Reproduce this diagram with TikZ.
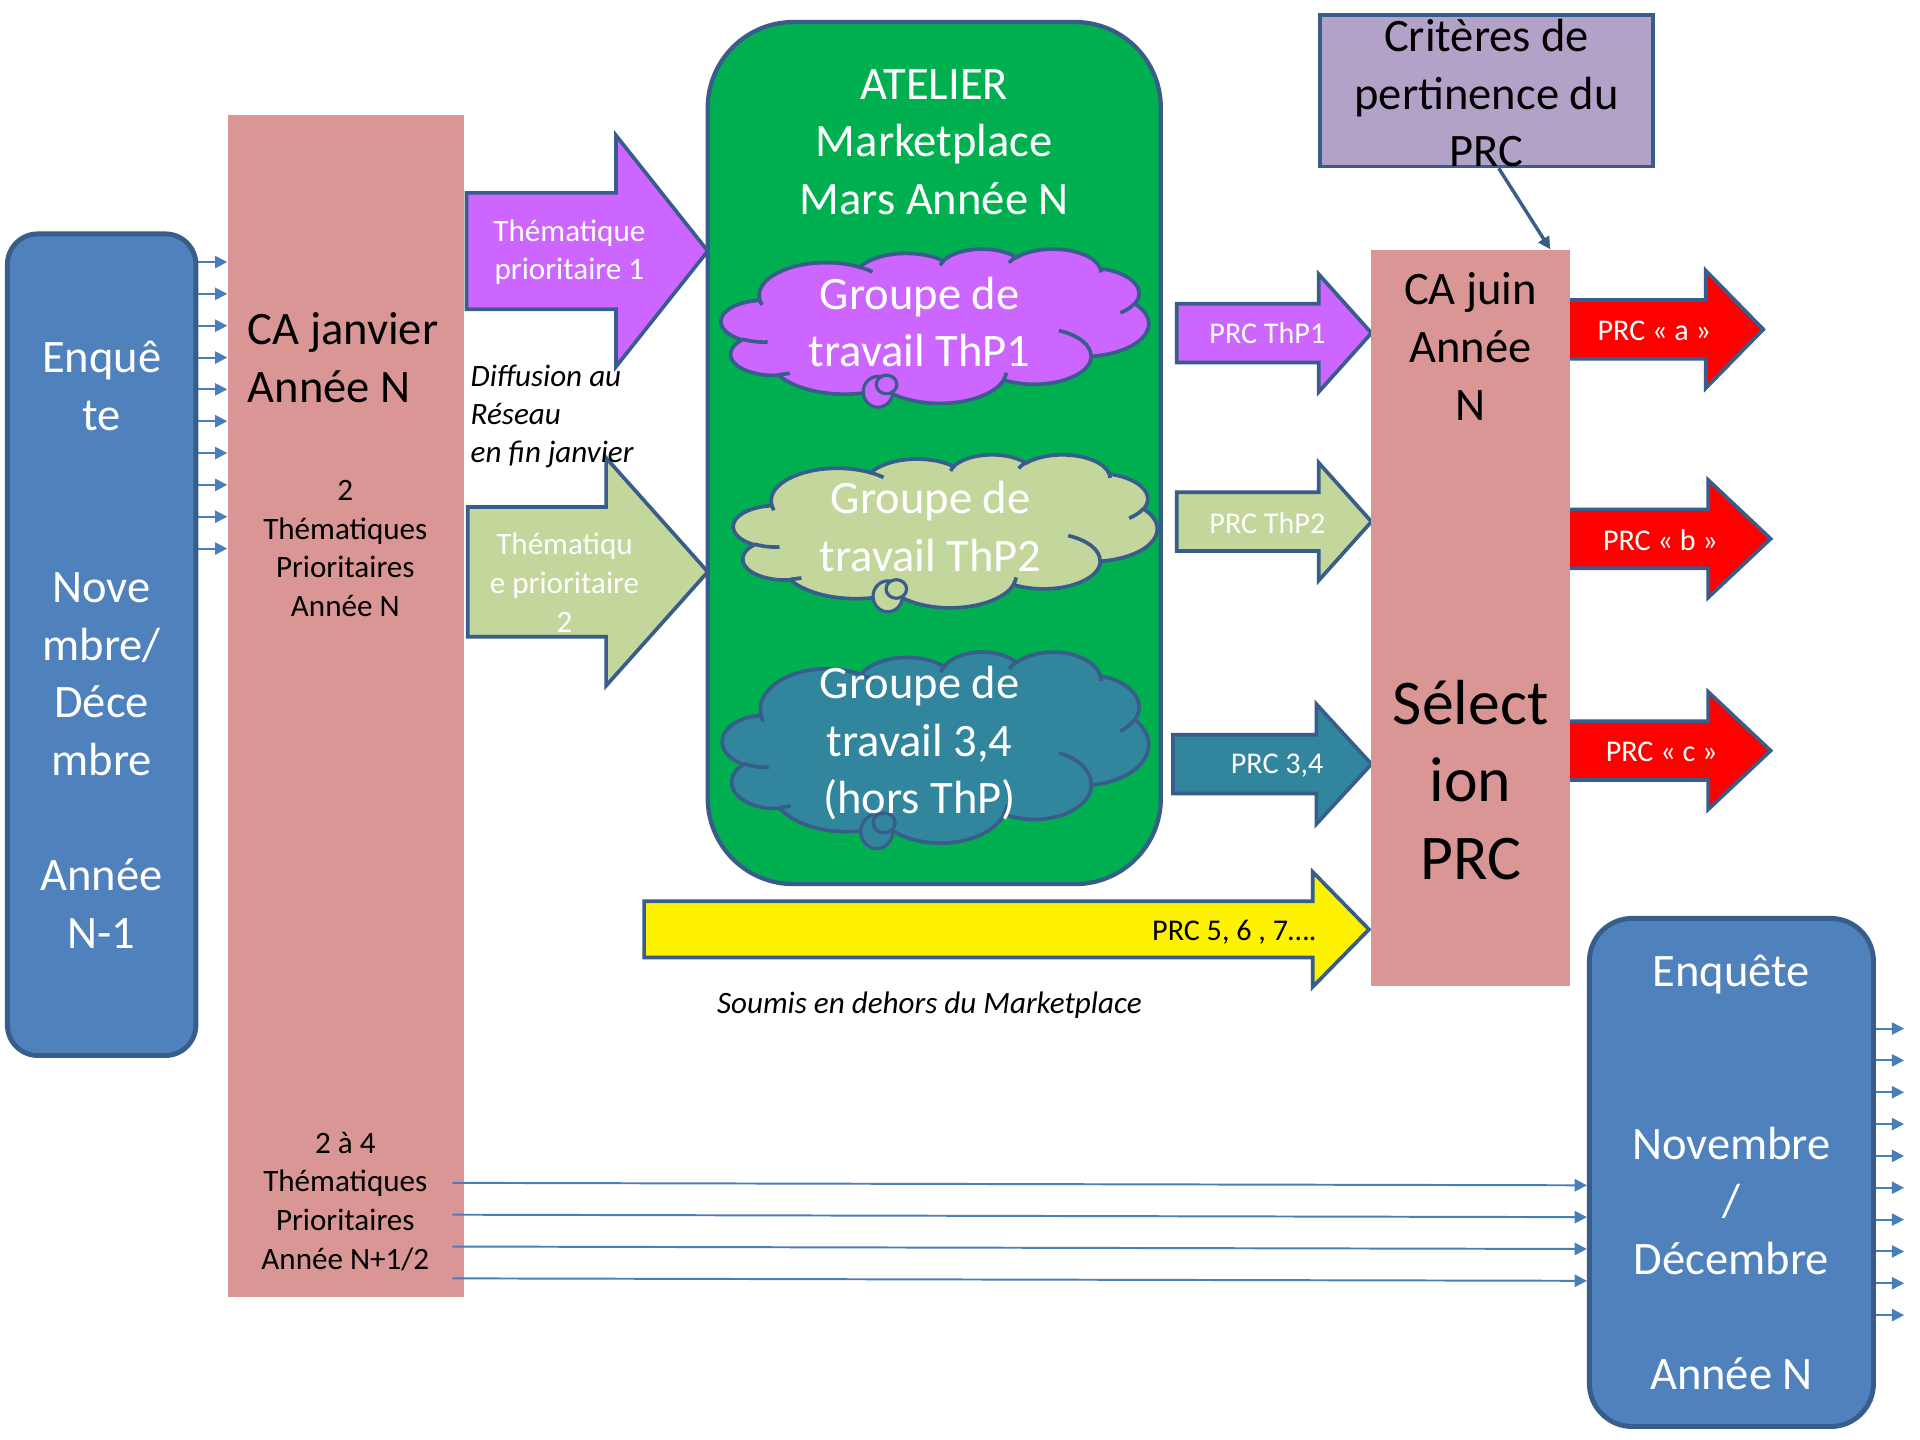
\documentclass[tikz,border=0pt]{standalone}
\usepackage{fontspec}
\setmainfont{Carlito}
\usetikzlibrary{arrows.meta,calc}
\definecolor{bordc}{HTML}{385D8A}
\definecolor{boxblue}{HTML}{4F81BD}
\definecolor{pinkc}{HTML}{D99694}
\definecolor{purplec}{HTML}{CC66FF}
\definecolor{lgreen}{HTML}{C3D69B}
\definecolor{tealc}{HTML}{31859C}
\definecolor{atelierg}{HTML}{00B050}
\definecolor{critc}{HTML}{B3A2C7}
\definecolor{thinc}{HTML}{4A7EBB}
% style, x1, x2, x3, yc, half body, half head
\newcommand\blockarr[7]{%
  \filldraw[barr,#1] (#2,#5-#6) -- (#3,#5-#6) -- (#3,#5-#7) -- (#4,#5) -- (#3,#5+#7) -- (#3,#5+#6) -- (#2,#5+#6) -- cycle;}
% elliptical arc with visual start angle / sweep (y down)
\newcommand\carc[4]{\pgfextra{%
  \pgfmathsetmacro\myta{atan2((#1)*sin(#3),(#2)*cos(#3))}%
  \pgfmathsetmacro\mytb{atan2((#1)*sin((#3)+(#4)),(#2)*cos((#3)+(#4)))}%
  \pgfmathsetmacro\mytb{\mytb<\myta ? \mytb+360 : \mytb}%
  \global\let\gta\myta\global\let\gtb\mytb}%
  arc[start angle=\gta, end angle=\gtb, x radius=#1, y radius=#2]}
% cloud: fill, x0, y0, w, h, name
\newcommand\cloudpic[6]{%
  \pgfmathsetmacro\cux{#4/432*0.5}\pgfmathsetmacro\cuy{#5/432*0.5}%
  \begin{scope}[shift={(#2,#3)}, x=\cux pt, y=-\cuy pt]
    \filldraw[draw=bordc, line width=1.5pt, fill=#1] (39,143.7)
      \carc{67.53}{91.90}{-190.4875}{123.7805}
      \carc{53.33}{72.67}{-144.1024}{89.9452}
      \carc{43.65}{59.45}{-145.8079}{99.7230}
      \carc{48.57}{65.95}{-130.9861}{117.2417}
      \carc{53.33}{72.73}{-78.7089}{109.0269}
      \carc{67.75}{92.20}{-46.2673}{130.2690}
      \carc{57.85}{78.67}{0.6250}{114.0333}
      \carc{67.52}{92.15}{22.4516}{115.1726}
      \carc{77.20}{105.43}{66.2426}{75.7110}
      \carc{43.60}{59.18}{-274.9421}{146.7356}
      \carc{43.45}{59.45}{-246.8285}{152.5189} -- cycle;
    \draw[draw=bordc, line width=1.5pt]
      (46.93,261.77) \carc{43.45}{59.45}{86.742}{26.4295}
      (69.28,348.99) \carc{43.60}{59.18}{73.6105}{11.4475}
      (164.78,390.90) \carc{67.52}{92.15}{137.6242}{14.0811}
      (288.27,347.51) \carc{67.52}{92.15}{6.4533}{15.9984}
      (341.29,229.54) \carc{57.85}{78.67}{-70.2924}{70.9174}
      (417.98,153.54) \carc{53.33}{72.73}{30.3180}{27.7515}
      (383.24,54.26) \carc{48.57}{65.95}{-13.7443}{14.8589}
      (290.78,39.52) \carc{48.57}{65.95}{-149.1815}{18.1954}
      (221.41,47.20) \carc{43.65}{59.45}{-163.4943}{17.6864}
      (140.00,51.92) \carc{67.53}{91.90}{-66.7070}{12.3194}
      (41.27,157.89) \carc{67.53}{91.90}{157.6544}{11.8582};
    \coordinate (#6) at (216,216);
  \end{scope}}
\tikzset{
  barr/.style={draw=bordc, line width=1.5pt, line join=miter},
  bigtxt/.style={font=\fontsize{19}{23.5}\selectfont, align=center, inner sep=0pt},
  hugetxt/.style={font=\fontsize{26}{31.5}\selectfont, align=center, inner sep=0pt},
  medtxt/.style={font=\fontsize{12.7}{15.8}\selectfont, align=center, inner sep=0pt},
  smalltxt/.style={font=\fontsize{12.3}{15}\selectfont, align=center, inner sep=0pt},
  itxt/.style={font=\fontsize{12.7}{15.6}\selectfont\itshape, inner sep=0pt},
  thinarr/.style={draw=thinc, line width=0.8pt, -{Triangle[length=5pt,width=5pt]}},
  tailc/.style={draw=bordc, line width=1.3pt},
}
\begin{document}
\begin{tikzpicture}[x=0.5pt,y=-0.5pt]
\useasboundingbox (0,0) rectangle (1568,1176);
\fill[white] (0,0) rectangle (1568,1176);

% ---- left survey box
\node[draw=bordc, line width=2pt, fill=boxblue, rounded corners=12.5pt,
      minimum width=77pt, minimum height=335.5pt, text=white, bigtxt] (lb) at (83,526.5)
  {Enquê\\te\\~\\~\\Nove\\mbre/\\Déce\\mbre\\~\\Année\\N-1};

% ---- pink CA janvier box
\node[fill=pinkc, minimum width=96.5pt, minimum height=482.5pt, inner sep=0pt] (caj) at (282.5,576.5) {};
\node[bigtxt, align=left, anchor=west] (cajt) at (202,292) {CA janvier\\Année N};
\node[medtxt] (cajt2) at (282,448) {2\\Thématiques\\Prioritaires\\Année N};
\node[medtxt] (cajt3) at (282,981) {2 à 4\\Thématiques\\Prioritaires\\Année N+1/2};

% thin arrows left box -> CA janvier
\foreach \y in {214,240,...,448} {
  \draw[thinarr] (lb.east |- 0,\y) -- (caj.west |- 0,\y);
}

% ---- block arrows into atelier
\blockarr{fill=purplec}{381}{503}{578}{205}{47.5}{94.5}
\node[medtxt, text=white] (t1) at (465,206) {Thématique\\prioritaire 1};
\blockarr{fill=lgreen}{382}{495}{578}{467}{53}{93}
\node[medtxt, text=white] (t2) at (461,476) {Thématiqu\\e prioritaire\\2};
\node[itxt, align=left, anchor=west] (diff) at (384,340) {Diffusion au\\Réseau\\en fin janvier};

% ---- atelier
\node[draw=bordc, line width=1.75pt, fill=atelierg, rounded corners=35pt,
      minimum width=185pt, minimum height=352pt] (atel) at (763,370) {};
\node[bigtxt, text=white] (atelt) at (763,116) {ATELIER\\Marketplace\\Mars Année N};

% clouds
\cloudpic{purplec}{589}{203}{349}{126}{cl1}
\draw[tailc, fill=purplec] (717,320) ellipse (6pt and 6.3pt);
\draw[tailc, fill=purplec] (724,314) ellipse (4.2pt and 3.8pt);
\node[bigtxt, text=white] (cl1t) at (751,263) {Groupe de\\travail ThP1};

\cloudpic{lgreen}{599}{371}{346}{125}{cl2}
\draw[tailc, fill=lgreen] (725,487) ellipse (6pt and 6.3pt);
\draw[tailc, fill=lgreen] (732,481) ellipse (4.2pt and 3.8pt);
\node[bigtxt, text=white] (cl2t) at (760,430) {Groupe de\\travail ThP2};

\cloudpic{tealc}{590}{532}{348}{156}{cl3}
\draw[tailc, fill=tealc] (716,679) ellipse (6.5pt and 7pt);
\draw[tailc, fill=tealc] (722,672) ellipse (4.5pt and 4pt);
\node[bigtxt, text=white] (cl3t) at (751,607) {Groupe de\\travail 3,4\\(hors ThP)};

% ---- arrows into CA juin
\blockarr{fill=purplec}{961}{1077}{1120}{272}{24}{48}
\node[smalltxt, text=white] (p1) at (1035,272) {PRC ThP1};
\blockarr{fill=lgreen}{961}{1077}{1120}{426}{24}{48}
\node[smalltxt, text=white] (p2) at (1035,427) {PRC ThP2};
\blockarr{fill=tealc}{958}{1075}{1120}{624}{24}{49}
\node[smalltxt, text=white] (p3) at (1043,625) {PRC 3,4};
\blockarr{fill=yellow}{526}{1072}{1118}{759}{23}{47}
\node[smalltxt, text=black] (p5) at (1008,761) {PRC 5, 6 , 7….};
\node[itxt] (soumis) at (759,821) {Soumis en dehors du Marketplace};

% ---- red output arrows (drawn before CA juin)
\blockarr{fill=red}{1276}{1393}{1440}{269}{24}{48}
\node[smalltxt, text=white] (ra) at (1351,270) {PRC « a »};
\blockarr{fill=red}{1276}{1395}{1446}{440}{24}{48}
\node[smalltxt, text=white] (rbt) at (1356,441) {PRC « b »};
\blockarr{fill=red}{1276}{1395}{1446}{613}{24}{48}
\node[smalltxt, text=white] (rc) at (1357,614) {PRC « c »};

% ---- CA juin
\node[fill=pinkc, minimum width=81pt, minimum height=300.5pt, inner sep=0pt] (caju) at (1201,504.5) {};
\node[bigtxt] (cajut) at (1201,283) {CA juin\\Année\\N};
\node[hugetxt] (sel) at (1201,637) {Sélect\\ion\\PRC};

% ---- criteria
\node[draw=bordc, line width=1.5pt, fill=critc, minimum width=136pt, minimum height=62pt] (crit) at (1214,74) {};
\node[bigtxt] (critt) at (1214,76) {Critères de\\pertinence du\\PRC};
\draw[draw=bordc, line width=1.4pt, -{Triangle[length=5pt,width=5pt]}]
  ($(crit.south)+(10,0)$) -- ($(caju.north)+(65,0)$);

% ---- right survey box
\node[draw=bordc, line width=2pt, fill=boxblue, rounded corners=17.5pt,
      minimum width=116pt, minimum height=207.5pt, text=white, bigtxt] (rb) at (1414,957.5)
  {Enquête\\~\\~\\Novembre\\/\\Décembre\\~\\Année N};

% lines CA janvier -> right box
\foreach \y in {966,992,1018,1044} {
  \draw[thinarr] ([xshift=-5pt]caj.east |- 0,\y) -- (rb.west |- 0,\y+2);
}
% arrows out of right box
\foreach \y in {840,866,...,1074} {
  \draw[thinarr] (rb.east |- 0,\y) -- ([xshift=11.5pt]rb.east |- 0,\y);
}
\end{tikzpicture}
\end{document}
